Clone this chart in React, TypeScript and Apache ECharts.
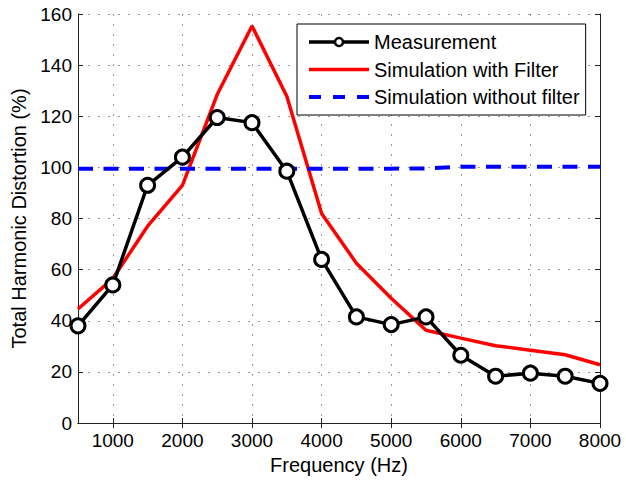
import React, { useEffect, useRef } from "react";
import * as echarts from "echarts";

const freqs = [500, 1000, 1500, 2000, 2500, 3000, 3500, 4000, 4500, 5000, 5500, 6000, 6500, 7000, 7500, 8000];
const measurement = [38, 54, 93, 104, 119.5, 117.5, 98.5, 64, 41.5, 38.5, 41.5, 26.5, 18.3, 19.5, 18.3, 15.5];
const simWithFilter = [44.6, 56.5, 77, 93, 128.5, 155.3, 127.8, 82, 62.5, 48.8, 36.3, 33.2, 30.2, 28.5, 26.7, 22.8];
const simWithoutFilter = [99.5, 99.5, 99.5, 99.5, 99.5, 99.5, 99.5, 99.5, 99.5, 99.5, 99.6, 100.2, 100.2, 100.2, 100.2, 100.2];
const xTicks = [1000, 2000, 3000, 4000, 5000, 6000, 7000, 8000];
const seriesNames = ["Measurement", "Simulation with Filter", "Simulation without filter"];

const FONT = "Liberation Sans, Arial, Helvetica, sans-serif";

export default function App() {
  const ref = useRef<HTMLDivElement>(null);
  useEffect(() => {
    if (!ref.current) return;
    const chart = echarts.init(ref.current, null, { renderer: "svg" });
    const pair = (ys: number[]) => freqs.map((f, i) => [f, ys[i]]);
    const gridLine = { show: true, lineStyle: { color: "#9a9a9a", type: [2, 8], width: 1 } };
    const hideSym = { color: "rgba(0,0,0,0)", borderWidth: 0, opacity: 0 };
    chart.setOption({
      animation: false,
      backgroundColor: "#ffffff",
      textStyle: { fontFamily: FONT },
      grid: { left: 78, right: 26, top: 14, bottom: 58, show: false },
      legend: {
        orient: "vertical",
        left: 297,
        top: 24,
        padding: [8, 6, 8, 10],
        itemGap: 7.5,
        itemWidth: 60,
        itemHeight: 10,
        backgroundColor: "#ffffff",
        borderColor: "#000000",
        borderWidth: 1,
        lineStyle: { width: 3.5 },
        textStyle: { fontSize: 20, color: "#000", fontFamily: FONT },
        data: [
          { name: seriesNames[0], itemStyle: { color: "#ffffff", borderColor: "#000", borderWidth: 2.5 } },
          { name: seriesNames[1], itemStyle: hideSym },
          { name: seriesNames[2], itemStyle: hideSym, lineStyle: { type: [12, 12], width: 4 } },
        ],
      },
      xAxis: [
        {
          type: "value",
          min: 500,
          max: 8000,
          name: "Frequency (Hz)",
          nameLocation: "middle",
          nameGap: 31,
          nameTextStyle: { fontSize: 20, color: "#000", fontFamily: FONT },
          axisLine: { show: true, onZero: false, lineStyle: { color: "#222", width: 1 } },
          axisTick: { show: true, inside: true, length: 5, customValues: xTicks, lineStyle: { color: "#222" } },
          axisLabel: { customValues: xTicks, fontSize: 19, color: "#000", margin: 8, fontFamily: FONT, formatter: (v: number) => String(v) },
          splitLine: gridLine,
        },
        {
          type: "value",
          position: "top",
          min: 500,
          max: 8000,
          axisLine: { show: true, lineStyle: { color: "#222", width: 1 } },
          axisTick: { show: true, inside: true, length: 5, customValues: xTicks, lineStyle: { color: "#222" } },
          axisLabel: { show: false },
          splitLine: { show: false },
        },
      ],
      yAxis: [
        {
          type: "value",
          min: 0,
          max: 160,
          interval: 20,
          name: "Total Harmonic Distortion (%)",
          nameLocation: "middle",
          nameGap: 48,
          nameTextStyle: { fontSize: 20, color: "#000", fontFamily: FONT },
          axisLine: { show: true, onZero: false, lineStyle: { color: "#222", width: 1 } },
          axisTick: { show: true, inside: true, length: 5, lineStyle: { color: "#222" } },
          axisLabel: { fontSize: 19, color: "#000", margin: 6, fontFamily: FONT },
          splitLine: gridLine,
        },
        {
          type: "value",
          position: "right",
          min: 0,
          max: 160,
          interval: 20,
          axisLine: { show: true, lineStyle: { color: "#222", width: 1 } },
          axisTick: { show: true, inside: true, length: 5, lineStyle: { color: "#222" } },
          axisLabel: { show: false },
          splitLine: { show: false },
        },
      ],
      series: [
        {
          name: seriesNames[1],
          type: "line",
          data: pair(simWithFilter),
          symbol: "none",
          lineStyle: { color: "#ff0000", width: 3.5 },
          itemStyle: { color: "#ff0000" },
          z: 2,
        },
        {
          name: seriesNames[2],
          type: "line",
          data: pair(simWithoutFilter),
          symbol: "none",
          lineStyle: { color: "#0000ff", width: 4, type: [15, 10.5] },
          itemStyle: { color: "#0000ff" },
          z: 3,
        },
        {
          name: seriesNames[0],
          type: "line",
          data: pair(measurement),
          symbol: "circle",
          symbolSize: 14,
          lineStyle: { color: "#000000", width: 3.5 },
          itemStyle: { color: "#ffffff", borderColor: "#000000", borderWidth: 3 },
          z: 4,
        },
      ],
    });
    return () => chart.dispose();
  }, []);
  return <div ref={ref} style={{ width: 626, height: 481, position: "absolute", left: 0, top: 0 }} />;
}
